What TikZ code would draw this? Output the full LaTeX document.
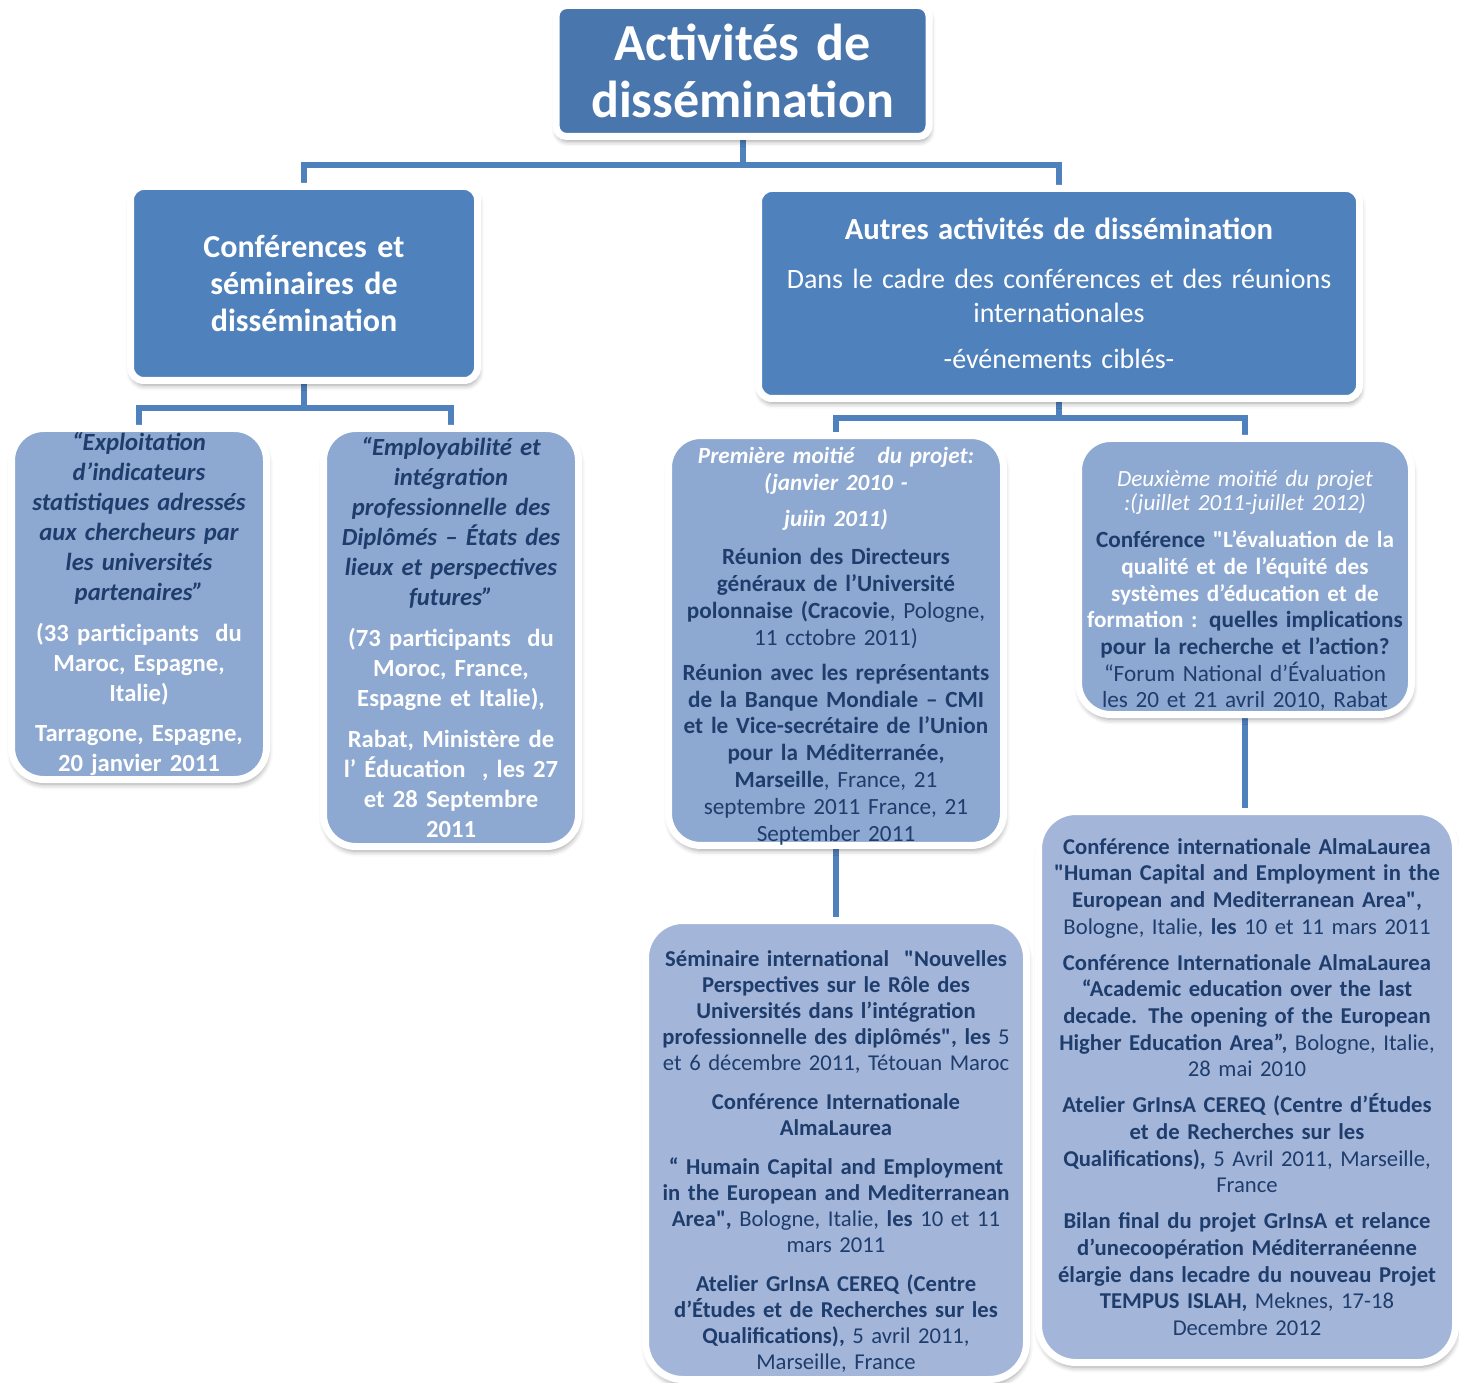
\documentclass[tikz,border=0pt]{standalone}
\usepackage{fontspec}
\setmainfont{Carlito}
\usetikzlibrary{shadows.blur}
\pgfdeclarelayer{bg}
\pgfsetlayers{bg,main}
\definecolor{topblue}{HTML}{4A76AE}
\definecolor{midblue}{HTML}{4F81BD}
\definecolor{lthree}{HTML}{8DA8D1}
\definecolor{lfour}{HTML}{A3B6D9}
\definecolor{navy}{HTML}{1F3D6C}
\definecolor{connblue}{HTML}{4F81BD}
\newcommand{\sq}{\XeTeXglyph\XeTeXcharglyph"22\relax}
\newcommand{\topstrut}[1]{\rule{0pt}{#1}}
\begin{document}
\begin{tikzpicture}[x=0.75pt,y=-0.75pt,
  sz/.style 2 args={minimum width=#1*0.75pt, minimum height=#2*0.75pt},
  tw/.style={text width=#1*0.75pt},
  boxbase/.style={draw=white, line width=5.25pt, inner sep=0pt, align=center,
    blur shadow={shadow xshift=0.8pt, shadow yshift=-3.5pt, shadow blur radius=4pt, shadow opacity=40}},
  topbox/.style={boxbase, fill=topblue, rounded corners=8pt, text=white},
  midbox/.style={boxbase, fill=midblue, rounded corners=10pt, text=white},
  thirdbox/.style={boxbase, fill=lthree, rounded corners=24pt},
  fourthbox/.style={boxbase, fill=lfour, rounded corners=28pt},
  conn/.style={draw=connblue, line width=4.5pt}
]
\useasboundingbox (0,0) rectangle (1459,1383);

% top
\node[topbox, sz={373}{131}, tw=365, font=\fontsize{39}{43}\selectfont\bfseries] (top) at (742.5,71)
  {Activités de\\ dissémination};

% level 2
\node[midbox, sz={347}{194}, tw=335, font=\fontsize{24}{27.4}\selectfont\bfseries] (L2L) at (304,283.5)
  {Conférences et\\ séminaires de\\ dissémination};
\node[midbox, sz={601}{210}, tw=592, font=\fontsize{21}{25}\selectfont] (L2R) at (1059,293.5)
  {{\fontsize{23}{25}\selectfont\bfseries Autres activités de dissémination}\\[12pt]
   Dans le cadre des conférences et des réunions\\ internationales\\[10pt]
   -événements ciblés-};

% level 3
\node[thirdbox, sz={255}{351}, tw=250, font=\fontsize{18.5}{22.5}\selectfont] (A) at (139,604)
  {\color{navy}\bfseries\itshape
   “Exploitation\\ d’indicateurs\\ statistiques adressés\\ aux chercheurs par\\ les universités\\ partenaires”\\[8pt]
   \color{white}\upshape (33 participants\ \ du\\ Maroc, Espagne,\\ Italie)\\[8pt]
   Tarragone, Espagne,\\ 20 janvier 2011};

\node[thirdbox, sz={255}{418}, tw=250, font=\fontsize{18.5}{22.5}\selectfont] (B) at (451,637.5)
  {\color{navy}\bfseries\itshape
   “Employabilité et\\ intégration\\ professionnelle des\\ Diplômés – États des\\ lieux et perspectives\\ futures”\\[8pt]
   \color{white}\upshape (73 participants\ \ du\\ Moroc, France,\\ Espagne et Italie),\\[8pt]
   Rabat, Ministère de\\ l’ Éducation\ \ , les 27\\ et 28 Septembre\\ 2011};

\node[thirdbox, sz={335}{408}, tw=333, font=\fontsize{17.4}{20.2}\selectfont] (C) at (836,640.5)
  {\color{white}\bfseries\itshape
   \topstrut{21pt}Première moitié\ \ \ du projet:\\ (janvier 2010 -\\[7pt]
   juiin 2011)\\[8pt]
   \color{navy}\upshape Réunion des Directeurs\\ généraux de l’Université\\ polonnaise (Cracovie{\mdseries, Pologne,}\\ {\mdseries 11 cctobre 2011)}\\[6pt]
   Réunion avec les représentants\\ de la Banque Mondiale – CMI\\ et le Vice-secrétaire de l’Union\\ pour la Méditerranée,\\ Marseille{\mdseries, France, 21}\\ {\mdseries septembre 2011 France, 21}\\ {\mdseries September 2011}};

\node[thirdbox, sz={333}{276}, tw=330, font=\fontsize{17.4}{20}\selectfont] (D) at (1245,576.5)
  {\color{white}\itshape
   \topstrut{33pt}Deuxième moitié du projet\\[-2pt] :(juillet 2011-juillet 2012)\\[8pt]
   \upshape\bfseries{\color{navy}Conférence} \sq L’évaluation de la\\ qualité et de l’équité des\\ systèmes d’éducation et de\\ formation : {\color{navy}quelles implications}\\
   \color{navy}pour la recherche et l’action?\\ \mdseries “Forum National d’Évaluation\\ les 20 et 21 avril 2010, Rabat};

% level 4
\node[fourthbox, sz={381}{459}, tw=378, font=\fontsize{17}{19.6}\selectfont] (E) at (836,1150)
  {\color{navy}\bfseries
   \topstrut{29pt}Séminaire international\ \ \sq Nouvelles\\ Perspectives sur le Rôle des\\ Universités dans l’intégration\\ professionnelle des diplômés\sq, les {\mdseries 5}\\ {\mdseries et 6 décembre 2011, Tétouan Maroc}\\[9.5pt]
   Conférence Internationale\\ AlmaLaurea\\[9.5pt]
   “ Humain Capital and Employment\\ in the European and Mediterranean\\ Area\sq, {\mdseries Bologne, Italie,} les {\mdseries 10 et 11}\\ {\mdseries mars 2011}\\[9pt]
   Atelier GrInsA CEREQ (Centre\\ d’Études et de Recherches sur les\\ Qualifications), {\mdseries 5 avril 2011,}\\ {\mdseries Marseille, France}};

\node[fourthbox, sz={417}{551}, tw=414, font=\fontsize{17}{20}\selectfont] (F) at (1247,1087)
  {\color{navy}\bfseries
   Conférence internationale AlmaLaurea\\ \sq Human Capital and Employment in the\\ European and Mediterranean Area\sq,\\ {\mdseries Bologne, Italie,} les {\mdseries 10 et 11 mars 2011}\\[7pt]
   Conférence Internationale AlmaLaurea\\ “Academic education over the last\\ decade. The opening of the European\\ Higher Education Area”, {\mdseries Bologne, Italie,}\\ {\mdseries 28 mai 2010}\\[7pt]
   Atelier GrInsA CEREQ (Centre d’Études\\ et de Recherches sur les\\ Qualifications), {\mdseries 5 Avril 2011, Marseille,}\\ {\mdseries France}\\[7pt]
   Bilan final du projet GrInsA et relance\\ d’unecoopération Méditerranéenne\\ élargie dans lecadre du nouveau Projet\\ TEMPUS ISLAH, {\mdseries Meknes, 17-18}\\ {\mdseries Decembre 2012}};

% connectors
\coordinate (j1) at (742.5,165);
\coordinate (j2) at (304,408);
\coordinate (j3) at (1059,418);
\begin{pgfonlayer}{bg}
\draw[conn] (top.south) -- (j1);
\draw[conn] (L2L.north) |- (j1) -| (L2R.north);
\draw[conn] (L2L.south) -- (j2);
\draw[conn] (A.north) |- (j2) -| (B.north);
\draw[conn] (L2R.south) -- (j3);
\draw[conn] (C.north) |- (j3) -| (D.north);
\draw[conn] (C.south) -- (E.north);
\draw[conn] (D.south) -- (D.south |- F.north);
\end{pgfonlayer}
\end{tikzpicture}
\end{document}
